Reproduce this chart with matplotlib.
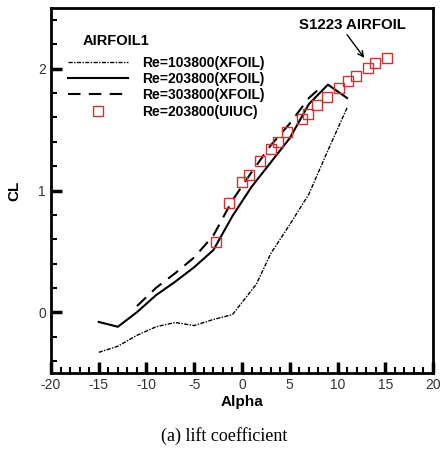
import numpy as np
import matplotlib
matplotlib.use("Agg")
import matplotlib.pyplot as plt
from matplotlib.ticker import MultipleLocator

plt.rcParams['font.family'] = ['Liberation Sans', 'DejaVu Sans']
plt.rcParams['axes.unicode_minus'] = False

# Re=103800 (XFOIL)
a1 = [-15, -13, -11, -9, -7, -5, -3, -1, 0.5, 1.5, 3, 5, 7, 9, 11]
cl1 = [-0.33, -0.28, -0.19, -0.12, -0.085, -0.11, -0.06, -0.02, 0.13, 0.23, 0.48, 0.72, 0.97, 1.33, 1.68]
# Re=203800 (XFOIL)
a2 = [-15, -13, -11, -9, -7, -5, -3, -1, 1, 3, 5, 7, 9, 11]
cl2 = [-0.08, -0.12, 0.0, 0.14, 0.25, 0.37, 0.51, 0.79, 1.03, 1.23, 1.43, 1.71, 1.87, 1.76]
# Re=303800 (XFOIL)
a3 = [-11, -9, -7, -5, -3, -1, 1, 3, 5, 7, 8]
cl3 = [0.05, 0.2, 0.32, 0.45, 0.63, 0.92, 1.15, 1.37, 1.55, 1.76, 1.83]
# Re=203800 (UIUC)
a4 = [-2.75, -1.4, 0.0, 0.7, 1.9, 3.0, 3.8, 4.75, 6.25, 6.9, 7.9, 8.9, 10.2, 11.1, 11.9, 13.2, 13.9, 15.2]
cl4 = [0.58, 0.90, 1.07, 1.13, 1.24, 1.34, 1.40, 1.48, 1.59, 1.63, 1.70, 1.77, 1.84, 1.90, 1.94, 2.01, 2.05, 2.09]

fig = plt.figure(figsize=(4.41, 4.51), dpi=100)
ax = fig.add_axes([0.1156, 0.1729, 0.8663, 0.8094])

ax.plot(a1, cl1, color='black', lw=1.0, linestyle=(0, (3, 1, 1, 1)), label="Re=103800(XFOIL)")
ax.plot(a2, cl2, color='black', lw=1.5, linestyle='-', label="Re=203800(XFOIL)")
ax.plot(a3, cl3, color='black', lw=1.5, linestyle=(0, (6, 4)), label="Re=303800(XFOIL)")
ax.plot(a4, cl4, linestyle='none', marker='s', ms=7, mfc='none', mec='#cc3333', mew=1.0,
        label="Re=203800(UIUC)")

ax.set_xlim(-20, 20)
ax.set_ylim(-0.5, 2.5)
ax.xaxis.set_major_locator(MultipleLocator(5))
ax.xaxis.set_minor_locator(MultipleLocator(1))
ax.yaxis.set_major_locator(MultipleLocator(1))
ax.yaxis.set_minor_locator(MultipleLocator(0.2))
ax.tick_params(which='both', direction='in', top=False, right=False, labelsize=10, width=1.5,
               labelcolor='#333333')
ax.tick_params(which='major', length=8, width=2.5)
ax.tick_params(which='minor', length=4)
for s in ax.spines.values():
    s.set_linewidth(2)

ax.set_xlabel("Alpha", fontsize=11, fontweight='bold', labelpad=2)
ax.set_ylabel("CL", fontsize=11, fontweight='bold', labelpad=12)

ax.text(0.083, 0.91, "AIRFOIL1", transform=ax.transAxes, ha='left', va='center',
        fontsize=10.5, fontweight='bold')
ax.legend(loc='upper left', bbox_to_anchor=(0.031, 0.885), frameon=False,
          handlelength=4.3, handletextpad=1.0, borderaxespad=0,
          labelspacing=0.17, prop={'weight': 'bold', 'size': 10})

ax.text(11.6, 2.36, "S1223 AIRFOIL", ha='center', va='center', fontsize=10.8, fontweight='bold')
ax.annotate("", xy=(12.8, 2.09), xytext=(11.0, 2.28),
            arrowprops=dict(arrowstyle='->', color='black', lw=1.0, shrinkA=0, shrinkB=0))

fig.text(0.508, 0.033, "(a) lift coefficient", ha='center', va='center',
         fontsize=13, family='Liberation Serif')

fig.savefig("out.png", dpi=100)
